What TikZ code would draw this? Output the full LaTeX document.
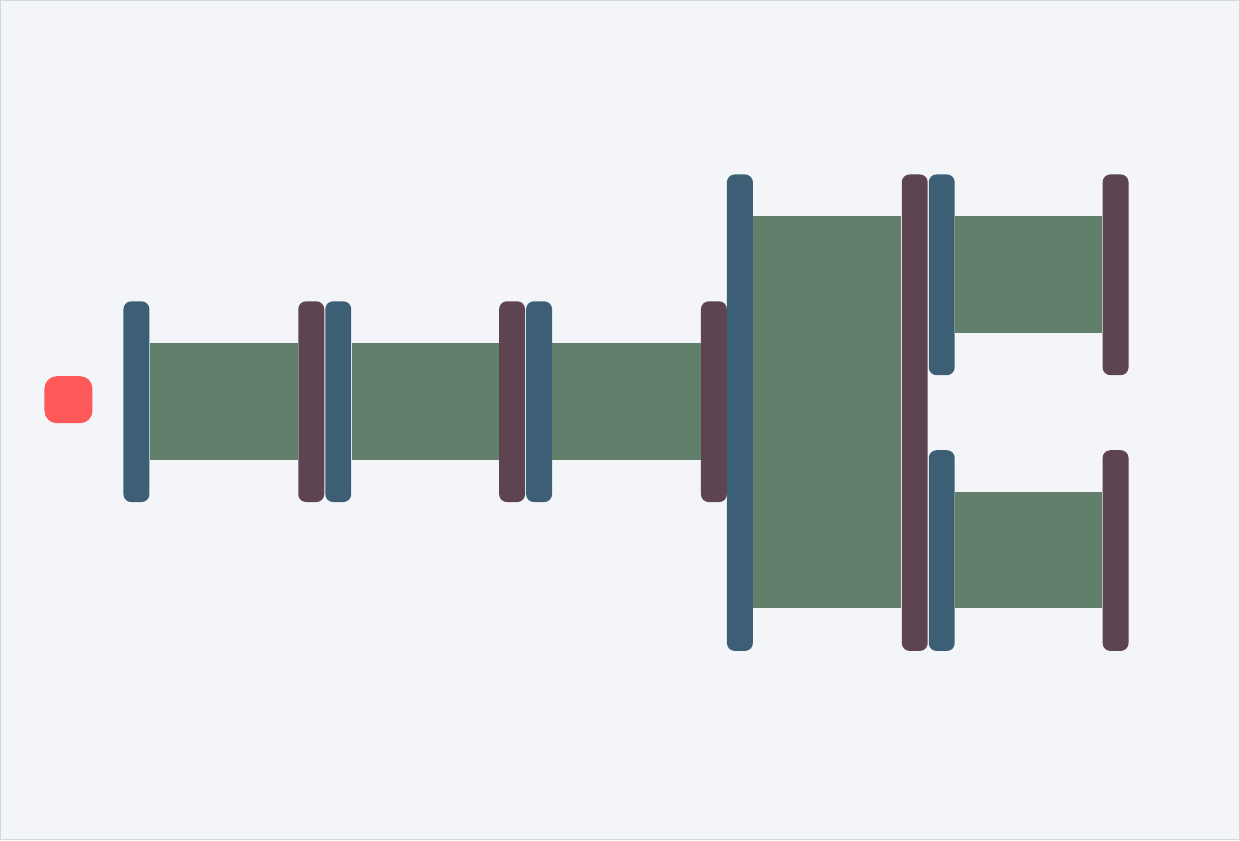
\documentclass[tikz,border=0pt]{standalone}
\usepackage{tikz}
\definecolor{bgpage}{HTML}{F3F5F9}
\definecolor{bgedge}{HTML}{D3D7DD}
\definecolor{barin}{HTML}{3D5F75}
\definecolor{barout}{HTML}{5E4350}
\definecolor{band}{HTML}{627F6B}
\definecolor{startred}{HTML}{FF5858}
\tikzset{
  inbar/.style={fill=barin, rounded corners=4.5pt, minimum width=0.52cm, inner sep=0pt},
  outbar/.style={fill=barout, rounded corners=4.5pt, minimum width=0.52cm, inner sep=0pt},
  flow/.style={fill=band}
}
\begin{document}
\begin{tikzpicture}[x=0.02cm, y=-0.02cm]
      \draw[fill=bgpage, draw=bgedge, line width=0.6pt] (0,0) rectangle (1240,840);
      \node[fill=startred, rounded corners=7pt, minimum width=0.96cm, minimum height=0.94cm, inner sep=0pt] (start) at (68,399.5) {};
      % short chain
      \node[inbar, minimum height=4.02cm] (i1) at (136,401.5) {};
      \node[outbar, minimum height=4.02cm] (o1) at (311,401.5) {};
      \node[inbar, minimum height=4.02cm] (i2) at (338,401.5) {};
      \node[outbar, minimum height=4.02cm] (o2) at (512,401.5) {};
      \node[inbar, minimum height=4.02cm] (i3) at (539,401.5) {};
      \node[outbar, minimum height=4.02cm] (o3) at (714,401.5) {};
      % tall pair
      \node[inbar, minimum height=9.54cm] (i4) at (740,412.5) {};
      \node[outbar, minimum height=9.54cm] (o4) at (915,412.5) {};
      % split
      \node[inbar, minimum height=4.02cm] (i5) at (942,274.5) {};
      \node[outbar, minimum height=4.02cm] (o5) at (1116,274.5) {};
      \node[inbar, minimum height=4.02cm] (i6) at (942,550.5) {};
      \node[outbar, minimum height=4.02cm] (o6) at (1116,550.5) {};
\fill[flow] (i1.east |- 0,343) rectangle (o1.west |- 0,460);
\fill[flow] (i2.east |- 0,343) rectangle (o2.west |- 0,460);
\fill[flow] (i3.east |- 0,343) rectangle (o3.west |- 0,460);
\fill[flow] (i4.east |- 0,216) rectangle (o4.west |- 0,608);
\fill[flow] (i5.east |- 0,216) rectangle (o5.west |- 0,333);
\fill[flow] (i6.east |- 0,492) rectangle (o6.west |- 0,608);
      \end{tikzpicture}
\end{document}
